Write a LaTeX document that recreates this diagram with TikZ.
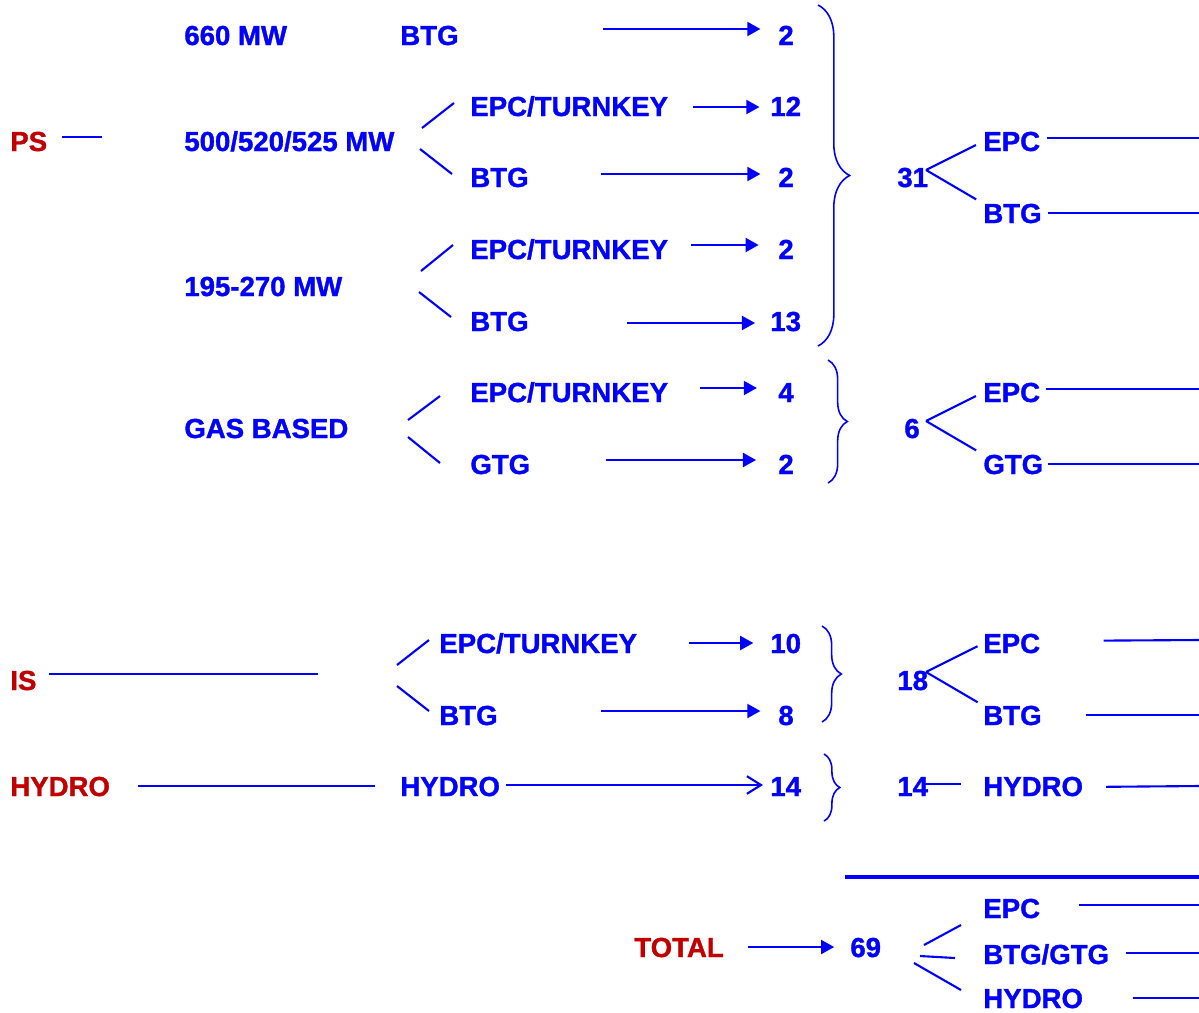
\documentclass[tikz,border=0pt]{standalone}
\usepackage{fontspec}
\setmainfont{Liberation Sans}[BoldFont={Liberation Sans Bold}, BoldFeatures={FakeBold=1.2}]
\usepackage{tikz}
\usetikzlibrary{arrows.meta, positioning, calc, decorations.pathreplacing}
\usepackage{xcolor}
\definecolor{psblue}{RGB}{0,0,255}
\definecolor{psred}{RGB}{192,0,0}
\tikzset{
  item/.style={
    anchor=base west, inner sep=0pt, text=psblue,
    font=\fontsize{15.7}{18}\selectfont\bfseries
  },
  head/.style={item, text=psred},
  arrow/.style={-{Triangle[length=7.5pt,width=8pt]}, line width=1.2pt, draw=psblue},
  harrow/.style={-{Straight Barb[length=8pt,width=10pt]}, line width=1.2pt, draw=psblue},
  link/.style={line width=1.2pt, draw=psblue},
  grp/.style={decorate, decoration={brace, amplitude=#1}, line width=0.9pt, draw=psblue},
  grp/.default=11pt
}

\begin{document}
\begin{tikzpicture}[x=0.02cm, y=-0.02cm]
\useasboundingbox (0,0) rectangle (1199,1012);

% PS block
\node[head] (ps) at (10,151) {PS};
\node[item] (mw660) at (184,45) {660 MW};
\node[item] (btg660) at (400,45) {BTG};
\node[item] (n660) at (778,45) {2};
\node[item] (mw500) at (184,151) {500/520/525 MW};
\node[item] (epc500) at (470,116) {EPC/TURNKEY};
\node[item] (n500e) at (770,116) {12};
\node[item] (btg500) at (470,187) {BTG};
\node[item] (n500b) at (778,187) {2};
\node[item] (mw195) at (184,296) {195-270 MW};
\node[item] (epc195) at (470,259) {EPC/TURNKEY};
\node[item] (n195e) at (778,259) {2};
\node[item] (btg195) at (470,331) {BTG};
\node[item] (n195b) at (770,331) {13};
\node[item] (ps31) at (897,187) {31};
\node[item] (psepc) at (983,151) {EPC};
\node[item] (psbtg) at (983,223) {BTG};

% Gas based
\node[item] (gas) at (184,438) {GAS BASED};
\node[item] (epcgas) at (470,402) {EPC/TURNKEY};
\node[item] (ngase) at (778,402) {4};
\node[item] (gtg) at (470,474) {GTG};
\node[item] (ngasg) at (778,474) {2};
\node[item] (gas6) at (904,438) {6};
\node[item] (gasepc) at (983,402) {EPC};
\node[item] (gasgtg) at (983,474) {GTG};

% IS block
\node[head] (is) at (10,690) {IS};
\node[item] (epcis) at (439,653) {EPC/TURNKEY};
\node[item] (nise) at (770,653) {10};
\node[item] (btgis) at (439,725) {BTG};
\node[item] (nisb) at (778,725) {8};
\node[item] (is18) at (897,690) {18};
\node[item] (isepc) at (983,653) {EPC};
\node[item] (isbtg) at (983,725) {BTG};

% Hydro
\node[head] (hy) at (10,796) {HYDRO};
\node[item] (hyd) at (400,796) {HYDRO};
\node[item] (nhy) at (770,796) {14};
\node[item] (hy14) at (897,796) {14};
\node[item] (hyhyd) at (983,796) {HYDRO};

% Total
\node[head] (tot) at (634,957) {TOTAL};
\node[item] (n69) at (850,957) {69};
\node[item] (totepc) at (983,918) {EPC};
\node[item] (totbtg) at (983,964) {BTG/GTG};
\node[item] (tothyd) at (983,1008) {HYDRO};

% Arrow starts and line ends
\coordinate (a1) at (603,29);
\coordinate (a2) at (693,107);
\coordinate (a3) at (601,174);
\coordinate (a4) at (691,245);
\coordinate (a5) at (627,323);
\coordinate (a6) at (700,388);
\coordinate (a7) at (606,460);
\coordinate (a8) at (689,643);
\coordinate (a9) at (601,711);
\coordinate (ah) at (0,785);
\coordinate (at) at (0,947);
\coordinate (psend) at (102,137);
\coordinate (isend) at (318,674);

% Arrows to counts
\draw[arrow, shorten >=10pt] (a1) -- (a1 -| n660.west);
\draw[arrow, shorten >=6pt] (a2) -- (a2 -| n500e.west);
\draw[arrow, shorten >=10pt] (a3) -- (a3 -| n500b.west);
\draw[arrow, shorten >=11pt] (a4) -- (a4 -| n195e.west);
\draw[arrow, shorten >=8.5pt] (a5) -- (a5 -| n195b.west);
\draw[arrow, shorten >=12pt] (a6) -- (a6 -| ngase.west);
\draw[arrow, shorten >=12.5pt] (a7) -- (a7 -| ngasg.west);
\draw[arrow, shorten >=9.5pt] (a8) -- (a8 -| nise.west);
\draw[arrow, shorten >=10pt] (a9) -- (a9 -| nisb.west);
\draw[harrow, shorten <=3pt, shorten >=4pt] (ah -| hyd.east) -- (ah -| nhy.west);
\draw[arrow, shorten <=13.5pt, shorten >=9pt] (at -| tot.east) -- (at -| n69.west);

% Lines from the heads
\draw[link, shorten <=8pt] (psend -| ps.east) -- (psend);
\draw[link, shorten <=7pt] (isend -| is.east) -- (isend);
\draw[link, shorten <=16pt, shorten >=14pt] (hy.east |- 0,786) -- (hyd.west |- 0,786);

% Fans on the left
\draw[link] (422,128) -- (454,103);
\draw[link] (420,149) -- (452,174);
\draw[link] (421,271) -- (453,245);
\draw[link] (419,292) -- (451,317);
\draw[link] (408,420) -- (440,396);
\draw[link] (408,437) -- (440,463);
\draw[link] (397,665) -- (429,640);
\draw[link] (397,686) -- (429,711);

% Braces
\draw[grp=18pt] (818,5) -- (818,346);
\draw[grp] (828,360) -- (828,483);
\draw[grp] (822,626) -- (822,722);
\draw[grp=9pt] (824,754) -- (824,821);

% Fans on the right
\coordinate (f31) at (926,170);
\coordinate (f6) at (926,421);
\coordinate (f18) at (926,672);
\draw[link, shorten >=4.5pt] (f31) -- (psepc.west);
\draw[link, shorten >=4.5pt] (f31) -- (psbtg.north west);
\draw[link, shorten >=4.5pt] (f6) -- (gasepc.west);
\draw[link, shorten >=4.5pt] (f6) -- (gasgtg.north west);
\draw[link, shorten >=3.5pt] (f18) -- (isepc.west);
\draw[link, shorten >=3.5pt] (f18) -- (isbtg.north west);
\draw[link, shorten <=-3pt, shorten >=12.5pt] (hy14.east |- 0,784) -- (hyhyd.west |- 0,784);

% Stubs to the right edge
\draw[link, shorten <=3.5pt] (psepc.east |- 0,138) -- (1199,138);
\draw[link, shorten <=3.5pt] (psbtg.east |- 0,213) -- (1199,213);
\draw[link, shorten <=3pt] (gasepc.east |- 0,389) -- (1199,389);
\draw[link, shorten <=2.5pt] (gasgtg.east |- 0,464) -- (1199,464);
\draw[link, shorten <=36pt] (isepc.east |- 0,641) -- (1199,640);
\draw[link, shorten <=25pt] (isbtg.east |- 0,715) -- (1199,715);
\draw[link, shorten <=13pt] (hyhyd.east |- 0,787) -- (1199,786);

% Total
\draw[line width=2.8pt, draw=psblue] (845,877) -- (1199,877);
\draw[link] (924,945) -- (961,925);
\draw[link] (920,956) -- (955,958);
\draw[link] (914,963) -- (961,990);
\draw[link, shorten <=22pt] (totepc.east |- 0,905) -- (1199,905);
\draw[link, shorten <=9.5pt] (totbtg.east |- 0,953) -- (1199,953);
\draw[link, shorten <=28pt] (tothyd.east |- 0,998) -- (1199,998);

\end{tikzpicture}
\end{document}
